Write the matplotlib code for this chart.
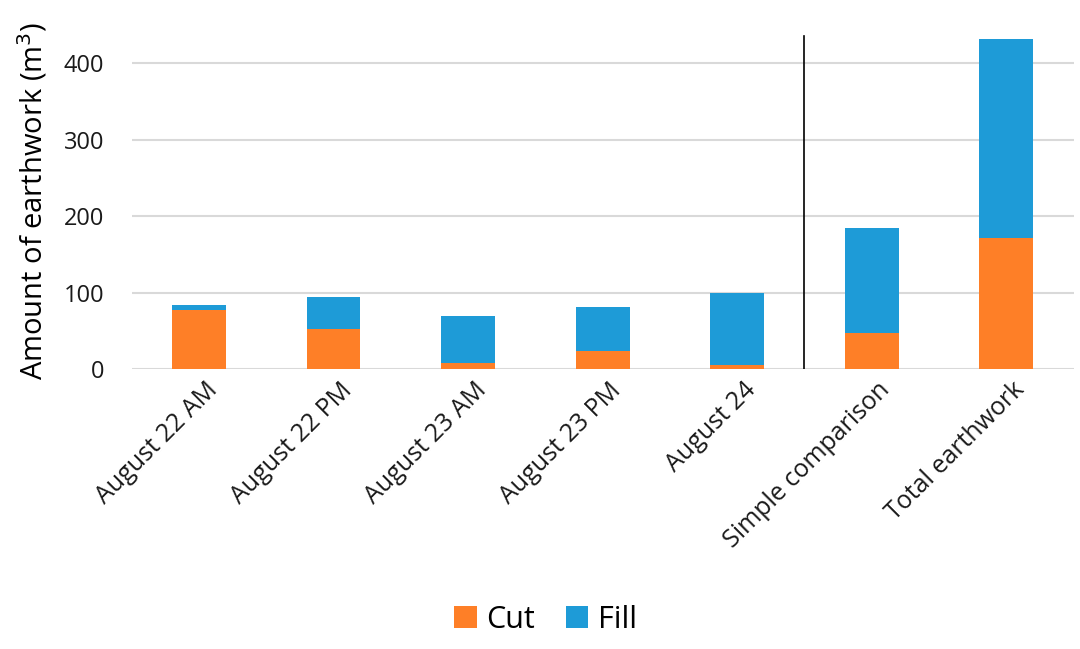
import matplotlib.pyplot as plt
from matplotlib.transforms import ScaledTranslation

categories = ["August 22 AM", "August 22 PM", "August 23 AM", "August 23 PM",
              "August 24", "Simple comparison", "Total earthwork"]
cut = [78, 53, 8, 23.5, 5, 47.5, 171]
total = [84, 95, 69.5, 81.5, 99, 185, 432]
fill = [t - c for t, c in zip(total, cut)]

plt.rcParams['font.family'] = ['Open Sans', 'DejaVu Sans']

fig = plt.figure(figsize=(10.8, 6.49), dpi=100)
ax = fig.add_axes([0.122, 0.431, 0.872, 0.519])

x = list(range(len(categories)))
ax.bar(x, cut, width=0.4, color="#FE7F27", label="Cut", zorder=3)
ax.bar(x, fill, width=0.4, bottom=cut, color="#1E9BD7", label="Fill", zorder=3)

ax.axvline(4.5, ymin=0, ymax=0.99, color="black", linewidth=1.2, zorder=4)

ax.set_xlim(-0.5, 6.5)
ax.set_ylim(0, 440)
ax.set_yticks([0, 100, 200, 300, 400])
ax.grid(axis='y', color="#D9D9D9", linewidth=1.5, zorder=0)
for s in ax.spines.values():
    s.set_visible(False)
ax.tick_params(length=0, labelsize=17, colors="#1a1a1a")
ax.tick_params(axis='y', pad=20)
ax.set_xticks(x)
ax.set_xticklabels(categories, rotation=45, ha='right', rotation_mode='anchor',
                   fontsize=18)
ax.tick_params(axis='x', pad=6)
shift = ScaledTranslation(0.06, 0.0, fig.dpi_scale_trans)
for lab in ax.get_xticklabels():
    lab.set_transform(lab.get_transform() + shift)
ax.set_ylabel("Amount of earthwork (m$^3$)", fontsize=21, labelpad=10)

fig.legend(loc='center', bbox_to_anchor=(0.505, 0.045), ncol=2, frameon=False,
           fontsize=22, handlelength=0.75, handleheight=0.75, columnspacing=1.0,
           handletextpad=0.3)

fig.savefig("out.png", dpi=100)
